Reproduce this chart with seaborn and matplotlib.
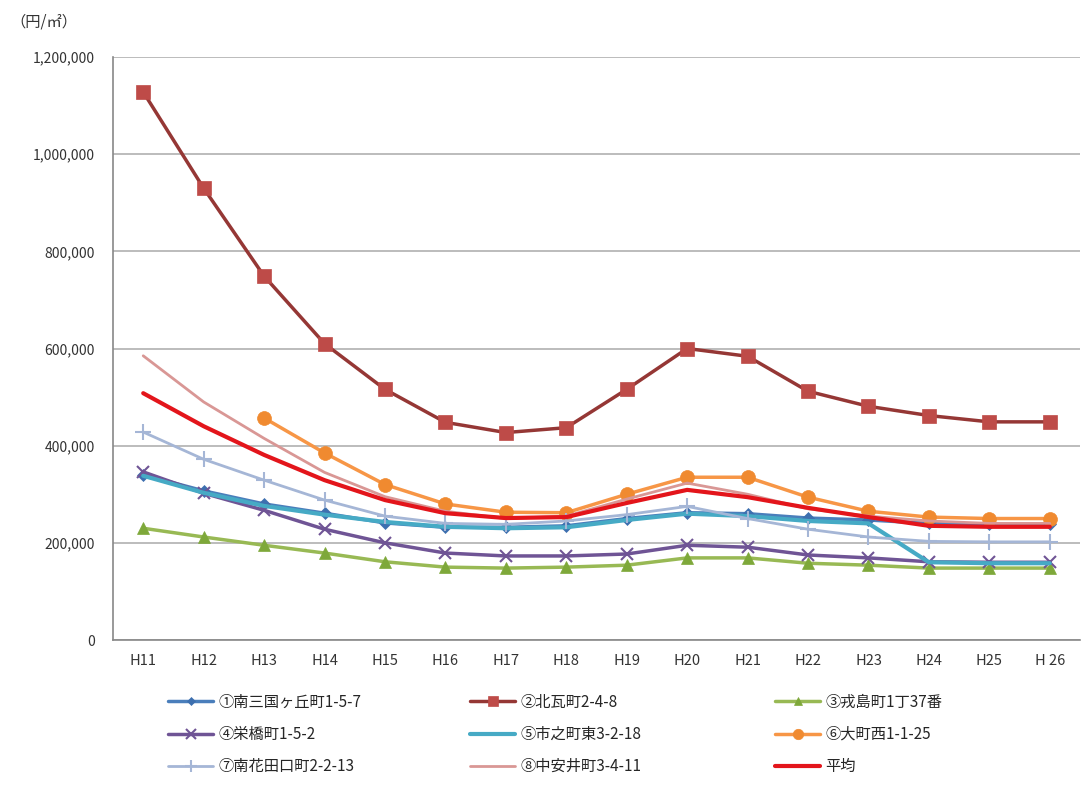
import pandas as pd
import numpy as np
import matplotlib
matplotlib.use("Agg")
import matplotlib.pyplot as plt
import seaborn as sns

years = ["H11", "H12", "H13", "H14", "H15", "H16", "H17", "H18",
         "H19", "H20", "H21", "H22", "H23", "H24", "H25", "H 26"]

s1 = [340000, 307000, 280000, 261000, 241000, 232000, 232000, 235000,
      250000, 262000, 260000, 251000, 247000, 240000, 238000, 238000]
s2 = [1128000, 930000, 749000, 610000, 516000, 448000, 427000, 437000,
      516000, 600000, 584000, 512000, 481000, 462000, 449000, 449000]
s3 = [230000, 212000, 195000, 179000, 161000, 150000, 148000, 150000,
      154000, 169000, 169000, 158000, 154000, 148000, 148000, 148000]
s4 = [346000, 302000, 267000, 228000, 200000, 179000, 173000, 173000,
      177000, 195000, 191000, 175000, 169000, 161000, 160000, 160000]
s5 = [338000, 303000, 276000, 258000, 243000, 233000, 230000, 232000,
      247000, 260000, 255000, 245000, 240000, 160000, 158000, 158000]
s6 = [np.nan, np.nan, 457000, 385000, 320000, 280000, 263000, 262000,
      300000, 335000, 335000, 294000, 265000, 253000, 250000, 250000]
s7 = [428000, 372000, 329000, 288000, 255000, 240000, 238000, 245000,
      258000, 275000, 250000, 228000, 212000, 203000, 202000, 202000]
s8 = [585000, 490000, 415000, 345000, 295000, 265000, 250000, 255000,
      290000, 323000, 300000, 270000, 255000, 245000, 240000, 240000]
avg = [508000, 440000, 381000, 329000, 288000, 261000, 251000, 253000,
       282000, 309000, 294000, 272000, 253000, 235000, 233000, 233000]

names = ["①南三国ヶ丘町1-5-7", "②北瓦町2-4-8", "③戎島町1丁37番",
         "④栄橋町1-5-2", "⑤市之町東3-2-18", "⑥大町西1-1-25",
         "⑦南花田口町2-2-13", "⑧中安井町3-4-11", "平均"]
values = [s1, s2, s3, s4, s5, s6, s7, s8, avg]

# line color, marker, marker color, line width, marker size
styles = [
    ("#4A7EBB", "D", "#3D6FAF", 2.5, 6),
    ("#953735", "s", "#BE4B48", 2.5, 10),
    ("#98B954", "^", "#7EA83A", 2.5, 8),
    ("#6F5495", "x", "#6F5495", 2.5, 9),
    ("#46AAC5", None, "#46AAC5", 3.0, 0),
    ("#F79646", "o", "#F08A30", 2.5, 10),
    ("#A5B6D6", "+", "#A5B6D6", 2.0, 12),
    ("#D99795", None, "#D99795", 2.0, 0),
    ("#E3151B", None, "#E3151B", 3.0, 0),
]

sns.set_style("white")
plt.rcParams["font.family"] = ["Noto Sans CJK JP", "DejaVu Sans"]

fig = plt.figure(figsize=(10.87, 7.89), dpi=100)
ax = fig.add_axes([113 / 1087, 1 - 640 / 789, 967 / 1087, 583 / 789])

xs = np.arange(len(years))
handles = []
for name, vals, (lc, mk, mc, lw, ms) in zip(names, values, styles):
    d = pd.DataFrame({"x": xs, "v": vals}).dropna()
    sns.lineplot(data=d, x="x", y="v", ax=ax, color=lc, linewidth=lw,
                 marker=mk, markersize=ms, markerfacecolor=mc,
                 markeredgecolor=mc, markeredgewidth=1.5 if mk in ("x", "+") else 0.5,
                 sort=False, label=name, legend=False)
    handles.append(ax.lines[-1])

ax.set_xlim(-0.5, len(years) - 0.5)
ax.set_ylim(0, 1200000)
ax.set_yticks(range(0, 1200001, 200000))
ax.set_yticklabels([f"{v:,}" for v in range(0, 1200001, 200000)], fontsize=10, color="#333333")
ax.set_xticks(xs)
ax.set_xticklabels(years, fontsize=10.5, color="#333333")
ax.set_xticks(np.arange(-0.5, len(years), 1), minor=True)
ax.tick_params(axis="x", which="major", length=0, pad=10)
ax.tick_params(axis="x", which="minor", length=5, color="#888888", direction="out")
ax.tick_params(axis="y", length=5, color="#888888", direction="out", pad=8)
ax.grid(axis="y", color="#B0B0B0", linewidth=1.2)
ax.set_axisbelow(True)
ax.set_xlabel("")
ax.set_ylabel("")
for side in ["top", "right"]:
    ax.spines[side].set_visible(False)
for side in ["left", "bottom"]:
    ax.spines[side].set_color("#888888")
    ax.spines[side].set_linewidth(1.2)

fig.text(10 / 1087, 1 - 22 / 789, "（円/㎡）", fontsize=11, va="center", color="#333333")

# legend: three columns placed separately, like the reference
col_x = [160, 462, 767]
for c in range(3):
    idx = [c, c + 3, c + 6]
    leg = fig.legend([handles[i] for i in idx], [names[i] for i in idx],
                     loc="upper left", bbox_to_anchor=(col_x[c] / 1087, 1 - 686 / 789),
                     frameon=False, fontsize=11, handlelength=3.0, handletextpad=0.3,
                     labelspacing=1.0, markerscale=0.75, borderpad=0)

plt.savefig("out.png", dpi=100)
